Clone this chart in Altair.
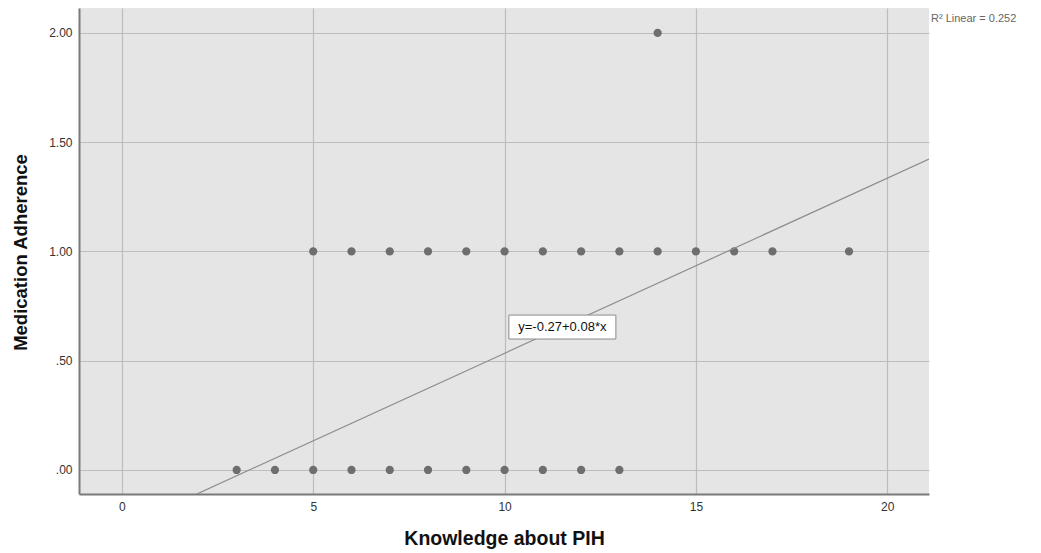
import altair as alt
import pandas as pd

# Data
knowledge_adh0 = [3, 4, 5, 6, 7, 8, 9, 10, 11, 12, 13]
knowledge_adh1 = [5, 6, 7, 8, 9, 10, 11, 12, 13, 14, 15, 16, 17, 19]
knowledge_adh2 = [14]

intercept = -0.267
slope = 0.0801
r2_text = "R\u00b2 Linear = 0.252"
eq_text = "y=-0.27+0.08*x"
eq_pos = [11.51, 0.654]

x_ticks = [0, 5, 10, 15, 20]
y_ticks = [0, 0.5, 1.0, 1.5, 2.0]
x_dom = [-1.12, 21.09]
y_dom = [-0.11, 2.114]

pts = pd.DataFrame(
    {"k": knowledge_adh0 + knowledge_adh1 + knowledge_adh2,
     "m": [0.0] * len(knowledge_adh0) + [1.0] * len(knowledge_adh1) + [2.0] * len(knowledge_adh2)}
)
line_df = pd.DataFrame({"k": x_dom, "m": [intercept + slope * v for v in x_dom]})
eq_df = pd.DataFrame({"k": [eq_pos[0]], "m": [eq_pos[1]], "t": [eq_text]})

xs = alt.Scale(domain=x_dom, nice=False, zero=False)
ys = alt.Scale(domain=y_dom, nice=False, zero=False)

x_axis = alt.Axis(
    values=x_ticks, title="Knowledge about PIH", grid=True, ticks=False,
    labelPadding=7, labelFontSize=12, labelColor="#333333", labelFont="Liberation Sans",
    titleFont="Liberation Sans", titleFontSize=19.5, titleFontWeight="bold", titleColor="#111111",
    titleX=425, titleY=50, titleAlign="center", titleBaseline="alphabetic",
    domainColor="#7a7a7a", domainWidth=2, gridColor="#bdbdbd", gridWidth=1.2,
)
y_axis = alt.Axis(
    values=y_ticks, title="Medication Adherence", grid=True, ticks=False,
    labelExpr="datum.value < 1 ? substring(format(datum.value, '.2f'), 1) : format(datum.value, '.2f')",
    labelPadding=7, labelFontSize=12, labelColor="#333333", labelFont="Liberation Sans",
    titleFont="Liberation Sans", titleFontSize=18.5, titleFontWeight="bold", titleColor="#111111",
    titleX=-59, titleY=244, titleAngle=-90, titleAlign="center", titleBaseline="middle",
    domainColor="#7a7a7a", domainWidth=2, gridColor="#bdbdbd", gridWidth=1.2,
)

points = alt.Chart(pts).mark_circle(size=68, color="#6e6e6e", opacity=1).encode(
    x=alt.X("k:Q", scale=xs, axis=x_axis),
    y=alt.Y("m:Q", scale=ys, axis=y_axis),
)

fit = alt.Chart(line_df).mark_line(color="#8c8c8c", strokeWidth=1.2, clip=True).encode(
    x=alt.X("k:Q", scale=xs), y=alt.Y("m:Q", scale=ys)
)

box = alt.Chart(eq_df).mark_point(
    shape="M-1,-0.224H1V0.224H-1Z", size=107 * 107, filled=True,
    fill="white", stroke="#8c8c8c", strokeWidth=1, opacity=1,
).encode(x=alt.X("k:Q", scale=xs), y=alt.Y("m:Q", scale=ys))

eq_label = alt.Chart(eq_df).mark_text(
    font="Liberation Sans", fontSize=13, color="#111111", align="center", baseline="middle"
).encode(x=alt.X("k:Q", scale=xs), y=alt.Y("m:Q", scale=ys), text="t:N")

r2 = alt.Chart(pd.DataFrame({"t": [r2_text]})).mark_text(
    font="Liberation Sans", fontSize=11, color="#666666", align="left", baseline="middle", clip=False
).encode(x=alt.value(852), y=alt.value(11), text="t:N")

chart = (
    alt.layer(points, fit, box, eq_label, r2)
    .properties(
        width=850, height=486,
        autosize=alt.AutoSizeParams(type="none"),
        padding={"left": 71, "top": 0, "right": 100, "bottom": 56},
    )
    .configure_view(fill="#e5e5e5", strokeWidth=0)
)

chart.save("out.html", embed_options={"renderer": "svg", "actions": False})
